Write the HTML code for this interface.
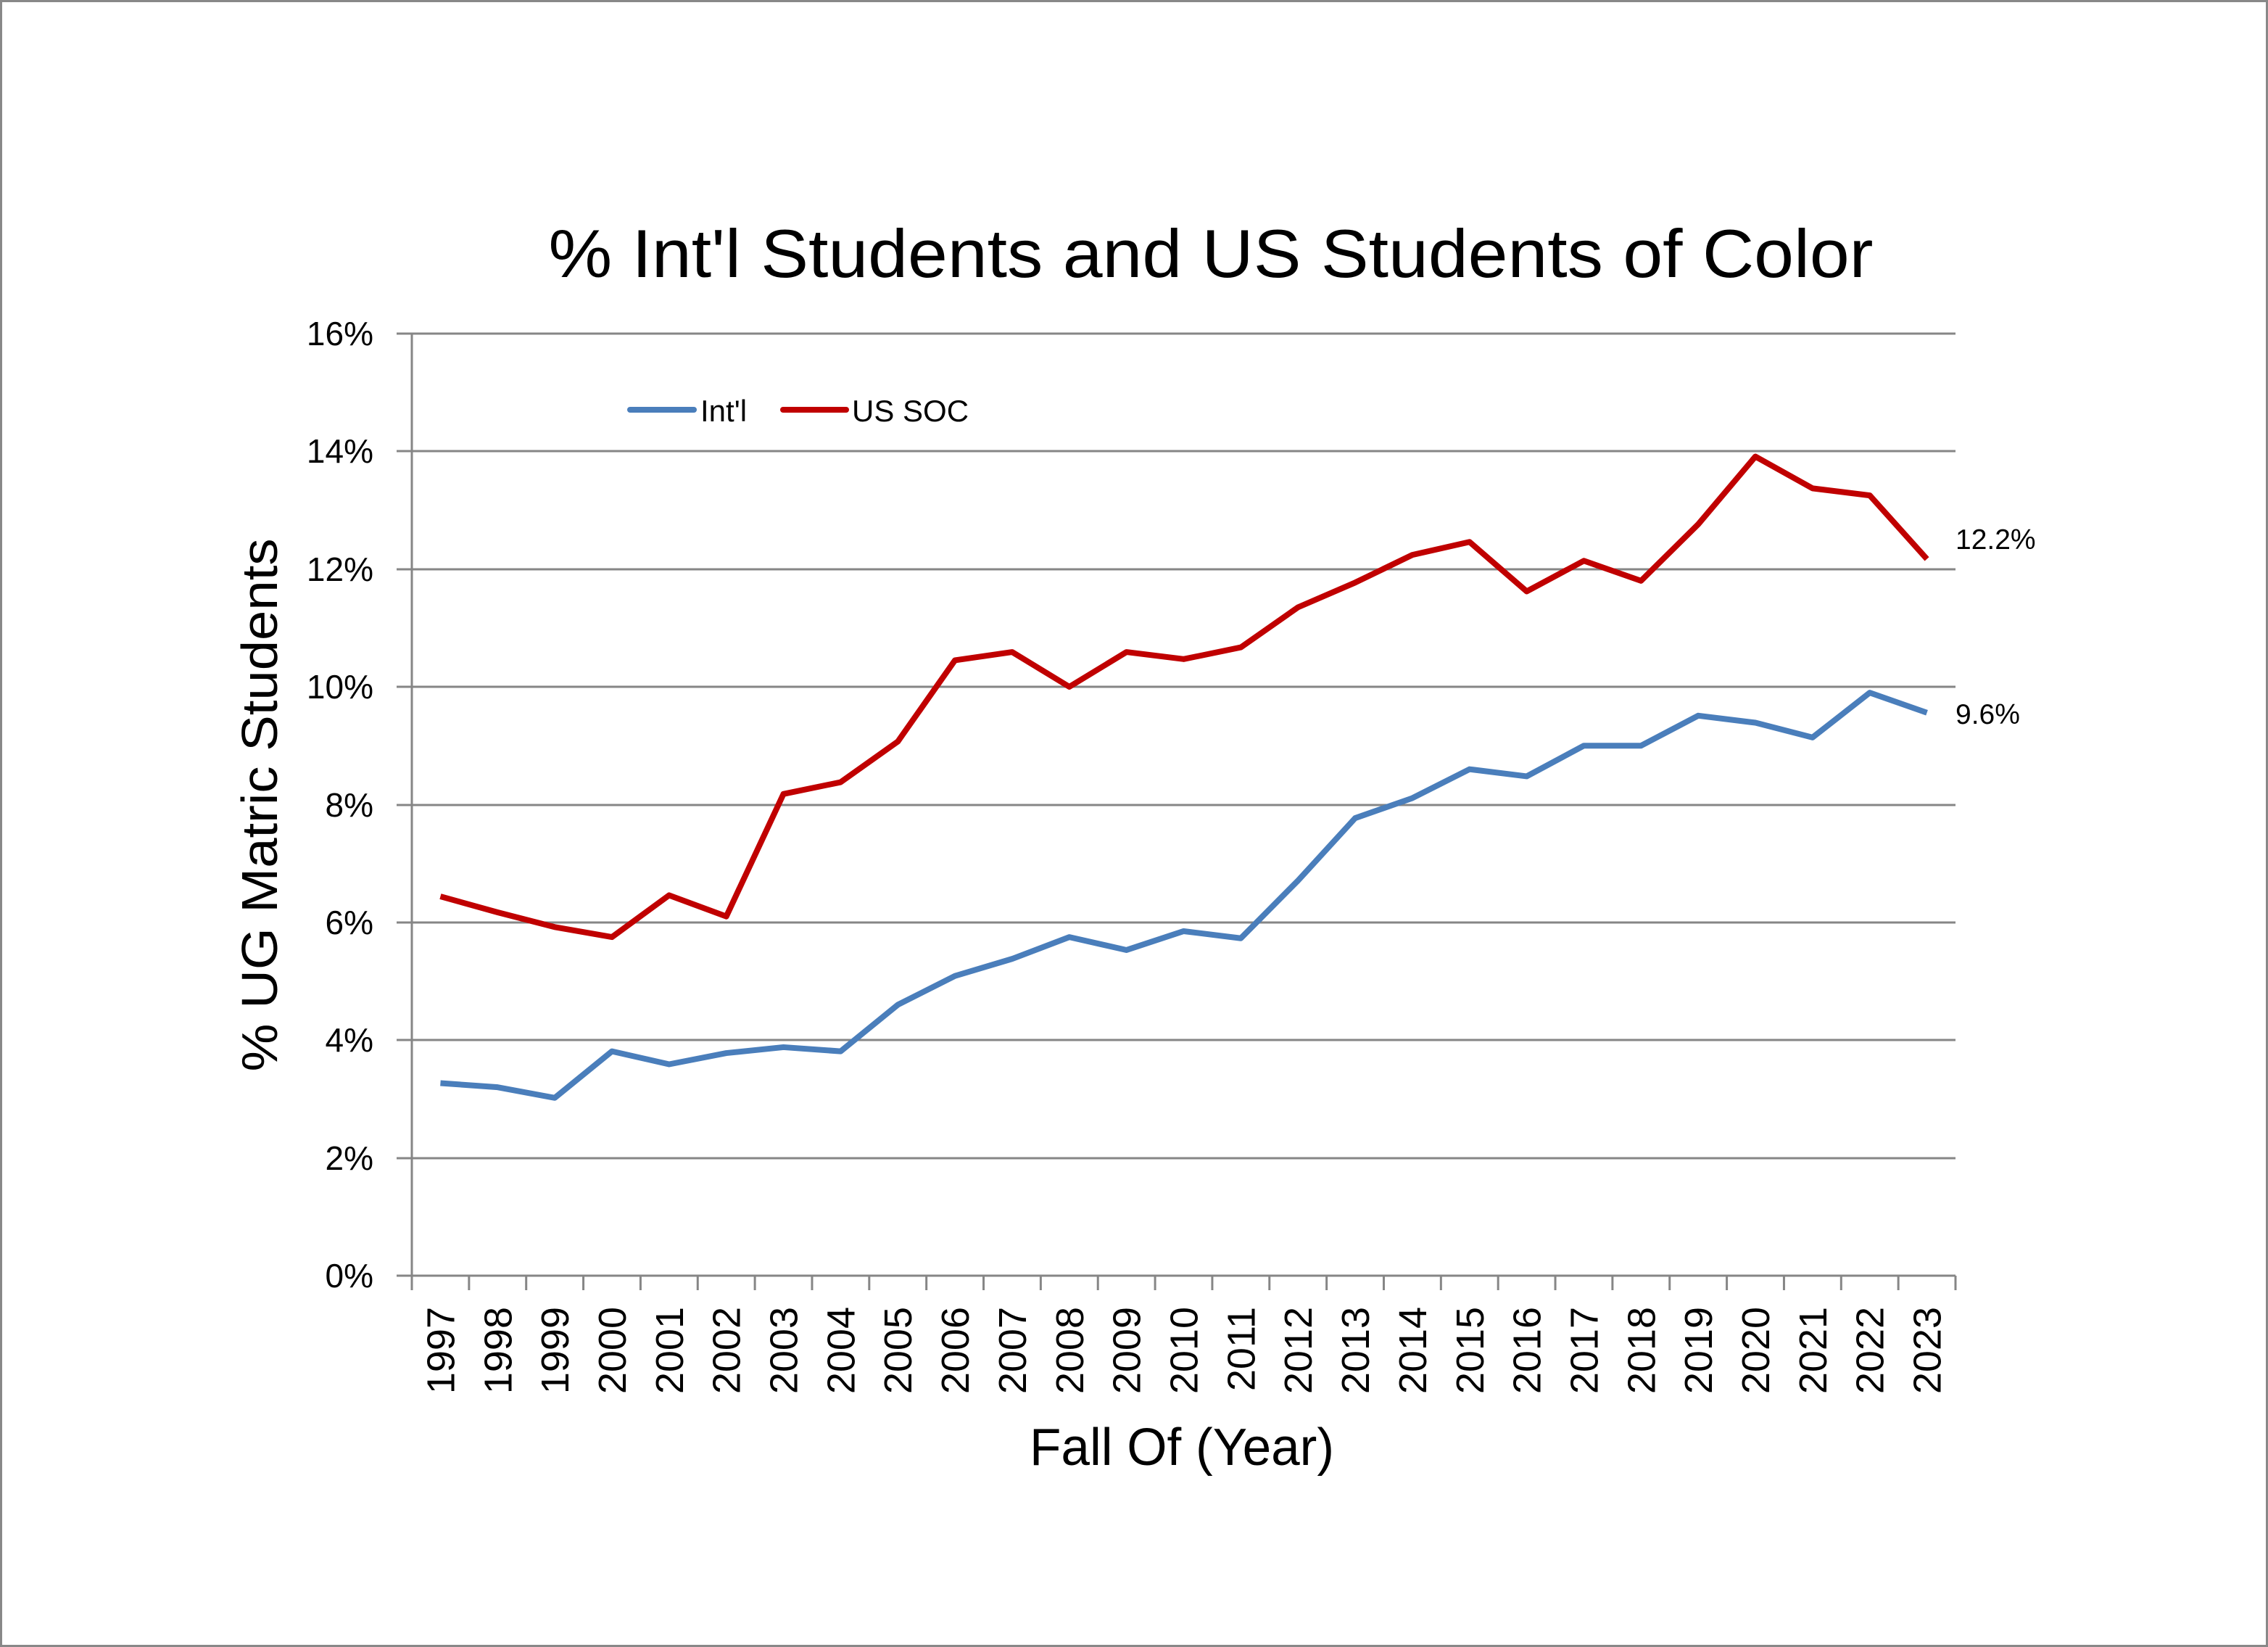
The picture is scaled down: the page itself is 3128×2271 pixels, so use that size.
<!DOCTYPE html>
<html><head><meta charset="utf-8"><style>
html,body{margin:0;padding:0;background:#fff}
svg{display:block}
text{font-family:"Liberation Sans",sans-serif;fill:#000}
</style></head><body>
<svg width="3128" height="2271" viewBox="0 0 3128 2271" xmlns="http://www.w3.org/2000/svg">
<rect x="1.5" y="1.5" width="3125" height="2268" fill="#fff" stroke="#888" stroke-width="3"/>
<text x="1670" y="382" font-size="94" text-anchor="middle" textLength="1827" lengthAdjust="spacingAndGlyphs">% Int'l Students and US Students of Color</text>
<g stroke="#868686" stroke-width="3">
<line x1="547" y1="460" x2="2697" y2="460"/>
<line x1="547" y1="622" x2="2697" y2="622"/>
<line x1="547" y1="785" x2="2697" y2="785"/>
<line x1="547" y1="947" x2="2697" y2="947"/>
<line x1="547" y1="1110" x2="2697" y2="1110"/>
<line x1="547" y1="1272" x2="2697" y2="1272"/>
<line x1="547" y1="1434" x2="2697" y2="1434"/>
<line x1="547" y1="1597" x2="2697" y2="1597"/>
<line x1="547" y1="1759" x2="2697" y2="1759"/>
<line x1="568" y1="460" x2="568" y2="1779"/>
</g>
<g stroke="#868686" stroke-width="3" id="ticks"></g>
<g font-size="46" text-anchor="end">
<text x="515" y="476">16%</text>
<text x="515" y="638">14%</text>
<text x="515" y="801">12%</text>
<text x="515" y="963">10%</text>
<text x="515" y="1126">8%</text>
<text x="515" y="1288">6%</text>
<text x="515" y="1450">4%</text>
<text x="515" y="1613">2%</text>
<text x="515" y="1775">0%</text>
</g>
<text transform="translate(382,1110) rotate(-90)" font-size="70" text-anchor="middle" textLength="735" lengthAdjust="spacingAndGlyphs">% UG Matric Students</text>
<text x="1630" y="2020" font-size="72" text-anchor="middle" textLength="420" lengthAdjust="spacingAndGlyphs">Fall Of (Year)</text>
<g id="xl" font-size="54" text-anchor="end"></g>
<line x1="869" y1="565" x2="957" y2="565" stroke="#4a7ebb" stroke-width="8" stroke-linecap="round"/>
<text x="966" y="581" font-size="42">Int'l</text>
<line x1="1080" y1="565" x2="1167" y2="565" stroke="#c00000" stroke-width="8" stroke-linecap="round"/>
<text x="1175" y="581" font-size="42">US SOC</text>
<polyline id="p1" fill="none" stroke="#4a7ebb" stroke-width="8" stroke-linejoin="round"/>
<polyline id="p2" fill="none" stroke="#c00000" stroke-width="8" stroke-linejoin="round"/>
<text x="2697" y="757" font-size="39">12.2%</text>
<text x="2697" y="998" font-size="39">9.6%</text>
</svg>
<script>
var a=[3.27,3.2,3.02,3.81,3.59,3.78,3.88,3.81,4.6,5.09,5.38,5.75,5.53,5.85,5.73,6.71,7.77,8.11,8.6,8.48,9.0,9.0,9.51,9.39,9.14,9.9,9.56];
var b=[6.44,6.17,5.92,5.75,6.46,6.1,8.18,8.38,9.07,10.45,10.59,10.0,10.59,10.47,10.67,11.35,11.77,12.24,12.46,11.62,12.14,11.8,12.76,13.91,13.37,13.25,12.17];
var L=568,W=(2697-568)/27,ns="http://www.w3.org/2000/svg";
function X(i){return L+W*(i+0.5)}function Y(v){return 1759-v*81.2}
document.getElementById('p1').setAttribute('points',a.map((v,i)=>X(i)+','+Y(v)).join(' '));
document.getElementById('p2').setAttribute('points',b.map((v,i)=>X(i)+','+Y(v)).join(' '));
var t=document.getElementById('ticks'),xl=document.getElementById('xl');
for(var i=0;i<=27;i++){var l=document.createElementNS(ns,'line');var x=L+W*i;l.setAttribute('x1',x);l.setAttribute('x2',x);l.setAttribute('y1',1759);l.setAttribute('y2',1779);t.appendChild(l);}
for(var i=0;i<27;i++){var s=document.createElementNS(ns,'text');s.setAttribute('transform','translate('+(X(i)+19)+',1802) rotate(-90)');s.textContent=1997+i;xl.appendChild(s);}
</script>
</body></html>
